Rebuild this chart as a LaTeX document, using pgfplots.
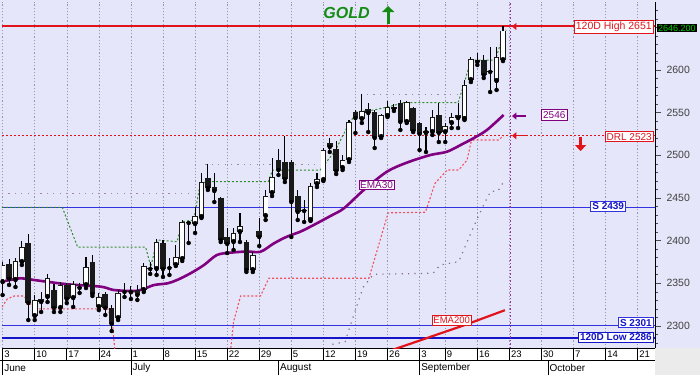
\documentclass[border=0pt]{standalone}
\usepackage{pgfplots}
\pgfplotsset{compat=1.18}
\usepackage{pgfplotstable}
\usepackage{fontspec}
\setmainfont{Liberation Sans}
\usetikzlibrary{arrows.meta}
\definecolor{bgl}{RGB}{230,230,250}
\definecolor{gridc}{RGB}{150,150,175}
\definecolor{redl}{RGB}{225,20,28}
\definecolor{bluel}{RGB}{50,50,225}
\definecolor{blued}{RGB}{20,20,200}
\definecolor{purp}{RGB}{128,0,128}
\definecolor{greent}{RGB}{20,140,20}
\definecolor{stepr}{RGB}{240,80,95}
\definecolor{stepg}{RGB}{45,140,45}
\definecolor{dotg}{RGB}{160,140,160}

\pgfplotstableread{
i O H L C
0 2351.5 2375.0 2336.3 2371.5
1 2372.7 2378.5 2348.1 2355.1
2 2353.9 2379.7 2345.7 2376.2
3 2375.0 2399.6 2371.5 2392.6
4 2397.3 2407.8 2307.0 2326.9
5 2311.7 2336.3 2307.0 2330.5
6 2331.6 2339.8 2316.4 2328.1
7 2334.0 2361.0 2328.1 2356.3
8 2342.2 2349.2 2316.4 2321.1
9 2321.1 2351.5 2316.4 2348.0
10 2348.0 2350.4 2326.9 2331.6
11 2332.8 2352.7 2322.3 2349.2
12 2344.6 2350.4 2338.7 2345.7
13 2348.0 2380.8 2344.5 2369.1
14 2375.0 2383.2 2335.2 2337.5
15 2322.3 2338.7 2318.7 2334.0
16 2337.5 2339.8 2312.9 2321.1
17 2321.1 2324.6 2294.1 2302.3
18 2309.4 2342.2 2307.0 2338.7
19 2339.8 2350.4 2334.0 2341.0
20 2340.5 2346.9 2331.6 2339.5
21 2342.2 2348.0 2330.5 2336.3
22 2342.2 2373.8 2339.8 2370.3
23 2367.9 2375.0 2361.0 2366.8
24 2366.8 2401.9 2359.8 2398.4
25 2397.3 2400.8 2357.5 2366.8
26 2369.1 2379.7 2359.8 2367.9
27 2371.5 2394.9 2370.3 2380.8
28 2378.5 2424.2 2376.2 2421.9
29 2421.9 2423.0 2397.3 2420.7
30 2419.5 2439.5 2409.0 2428.9
31 2427.7 2479.3 2426.6 2468.7
32 2473.4 2489.8 2459.4 2461.7
33 2462.9 2479.3 2445.3 2458.2
34 2450.0 2451.2 2398.4 2400.8
35 2404.3 2414.8 2385.5 2396.1
36 2398.4 2414.8 2389.1 2409.0
37 2410.2 2432.4 2398.4 2417.2
38 2398.4 2400.8 2363.3 2365.6
39 2365.6 2386.7 2363.3 2383.2
40 2411.3 2426.6 2393.7 2404.3
41 2428.9 2459.4 2424.2 2452.3
42 2455.9 2496.9 2452.3 2474.6
43 2494.5 2507.4 2477.0 2482.8
44 2492.2 2522.7 2468.7 2472.3
45 2492.2 2494.5 2404.3 2445.3
46 2452.3 2459.4 2424.2 2433.6
47 2435.9 2447.7 2421.9 2434.8
48 2424.2 2467.6 2423.1 2464.1
49 2466.4 2479.3 2462.9 2472.3
50 2471.1 2508.6 2469.9 2506.2
51 2514.5 2520.3 2503.9 2509.8
52 2507.4 2516.8 2478.1 2481.6
53 2485.2 2500.4 2482.8 2494.5
54 2494.5 2541.4 2492.2 2539.1
55 2550.8 2553.1 2526.2 2543.7
56 2542.6 2571.9 2537.9 2552.0
57 2554.3 2561.3 2527.3 2549.6
58 2550.8 2553.1 2508.6 2520.3
59 2521.5 2548.4 2520.3 2547.3
60 2546.1 2563.7 2544.9 2556.6
61 2556.6 2560.2 2552.0 2554.3
62 2561.3 2564.8 2529.7 2539.1
63 2539.1 2563.7 2537.9 2562.5
64 2555.5 2556.6 2527.3 2528.5
65 2537.9 2539.1 2506.2 2525.0
66 2526.2 2533.2 2503.9 2528.5
67 2527.3 2553.1 2523.8 2544.9
68 2547.3 2561.3 2515.6 2526.2
69 2527.3 2537.9 2515.6 2534.4
70 2537.9 2549.6 2532.0 2544.9
71 2547.3 2561.3 2532.0 2543.7
72 2542.6 2588.3 2541.4 2582.4
73 2588.3 2615.2 2585.9 2612.9
74 2611.7 2619.9 2605.9 2609.4
75 2611.7 2617.6 2590.6 2594.1
76 2597.7 2627.0 2574.2 2598.8
77 2587.1 2627.0 2576.6 2615.2
78 2611.7 2651.0 2610.5 2646.2
}\candles

\begin{document}
\begin{tikzpicture}[x=1pt,y=1pt]
\useasboundingbox (0,0) rectangle (700,375);
\fill[bgl] (0,0) rectangle (700,375);
\fill[white] (0,0) rectangle (655,27);
\fill[black!8] (655,0) rectangle (700,27);
\begin{axis}[
  at={(2pt,27pt)}, anchor=south west,
  width=653pt, height=346pt, scale only axis,
  xmin=-0.1, xmax=101.7, ymin=2274.2, ymax=2679.7,
  axis x line*=bottom, axis y line*=right,
  axis line style={black, line width=0.6pt},
  xtick={0,5,10,15,20,25,30,35,40,45,50,55,60,65,69,74,79,84,89,94,99},
  xticklabels={},
  x tick style={draw=none},
  xmajorgrids, major x grid style={gridc, dash pattern=on 1.2pt off 2pt, line width=0.5pt},
  ytick={2300,2350,...,2600},
  minor ytick={2280,2290,...,2670},
  y tick style={black!70, line width=0.6pt},
  tick align=outside,
  major tick length=6pt, minor tick length=3pt,
  yticklabel style={font=\fontsize{10.5}{12}\selectfont, text=black!75, xshift=2pt},
  /pgf/number format/assume math mode=true,
  /pgf/number format/1000 sep={},
  clip mode=individual,
]
% horizontal levels
\addplot[redl, line width=2pt] coordinates {(-0.1,2651) (101.7,2651)};
\addplot[redl, line width=1.2pt, dash pattern=on 2pt off 2pt] coordinates {(-0.1,2523) (101.7,2523)};
\addplot[bluel, line width=1.1pt] coordinates {(-0.1,2439) (101.7,2439)};
\addplot[bluel, line width=1.1pt] coordinates {(-0.1,2301) (101.7,2301)};
\addplot[blued, line width=2pt] coordinates {(-0.1,2286) (101.7,2286)};
% vertical purple marker
\addplot[purp!80, line width=1pt, dash pattern=on 1.5pt off 2pt] coordinates {(79.1,2274.2) (79.1,2679.7)};
% step lines
\addplot[stepg, line width=1pt, dash pattern=on 2pt off 2pt] coordinates {
(-0.1,2439) (9.3,2439) (11.7,2392.3) (22.3,2392.3) (23.1,2369.5) (24.1,2400.8) (27.2,2398.8) (28,2422.3) (29.8,2424.2) (30.8,2467.2) (32.1,2469.1) (41.4,2469.1) (42.1,2482.8) (49.5,2482.8) (51.9,2506) (53.7,2533) (55.2,2551) (57.8,2553) (60,2556.6) (62.5,2561.7) (71,2561.7) (71.8,2580.5) (73,2611.7) (76.8,2611.7) (77.8,2635) (78.5,2647)};
\addplot[stepr, line width=1.1pt, dash pattern=on 2pt off 2pt] coordinates {
(-0.1,2322.3) (0.7,2331.5) (1.8,2335.2) (3.3,2335.2) (4.1,2328.5) (4.9,2320) (16.4,2320) (17.1,2305) (17.6,2262) (35.4,2262) (36,2305) (37.1,2335.2) (40.2,2335.2) (41.5,2355.9) (57.1,2355.9) (60.1,2432.6) (65.9,2433.3) (67.4,2467.2) (69.3,2482.8) (71.1,2482.8) (72.4,2494.5) (73,2515) (73.4,2518) (77.3,2518) (78.1,2523)};
\addplot[dotg, line width=1.2pt, dash pattern=on 1.2pt off 5.2pt, unbounded coords=jump] coordinates {
(-0.1,2455.5) (29.8,2455.5) (30,nan) (31.6,2489.5) (49.1,2489.5) (50,nan) (55.8,2571.5) (71.4,2571.5)};
\addplot[dotg!80!black, line width=1.2pt, dash pattern=on 1.2pt off 5.2pt] coordinates {
(51.4,2278.5) (53.4,2281.6) (54.1,2298.5) (56.2,2345.4) (57.8,2360.6) (67.1,2361.8) (68.2,2371.5) (71.1,2375.4) (72.1,2393.0) (73.2,2412.5) (75.1,2443.8) (76.1,2457.9) (77.2,2457.9) (78.1,2469.1)};
% EMAs
\addplot[purp, line width=2.6pt, smooth] coordinates {
(-0.1,2352.0) (2.8,2355.9) (4.9,2353.9) (10.1,2348.9) (15.3,2346.1) (17.3,2342.2) (20.5,2341.0) (22.0,2343.4) (23.6,2348.0) (25.7,2350.0) (27.2,2353.9) (29.3,2361.8) (31.4,2371.5) (33.4,2383.2) (35.5,2385.9) (38.1,2387.3) (40.2,2387.0) (42.3,2396.9) (44.3,2404.6) (46.4,2410.5) (48.5,2418.4) (51.1,2428.9) (53.2,2437.9) (56.3,2459.4) (59.9,2480.8) (63.0,2491.4) (66.7,2500.4) (69.3,2504.3) (71.9,2514.1) (73.4,2520.0) (75.5,2529.7) (78.1,2547.3)};
\addplot[redl, line width=2.2pt] coordinates {(60,2270.0) (66,2285.5) (72,2301) (78.3,2318.5)};
% candles: wicks
\addplot[only marks, mark=none, error bars/.cd, y dir=plus, y explicit, error mark=none,
  error bar style={black, line width=1.1pt}]
  table[x=i, y=L, y error expr={\thisrow{H}-\thisrow{L}}] {\candles};
% bodies (outline / black fill)
\addplot[only marks, mark=none, error bars/.cd, y dir=plus, y explicit, error mark=none,
  error bar style={black!90, line width=5.6pt}]
  table[x=i, y expr={min(\thisrow{O},\thisrow{C})}, y error expr={max(abs(\thisrow{C}-\thisrow{O}),1.2)}] {\candles};
% white interior of rising candles
\addplot[only marks, mark=none, error bars/.cd, y dir=plus, y explicit, error mark=none,
  error bar style={white, line width=3.8pt}]
  table[x=i, y expr={(\thisrow{C}-\thisrow{O}>2.2) ? (\thisrow{O}+1.0) : nan}, y error expr={abs(\thisrow{C}-\thisrow{O})-2.0}] {\candles};
% arrows
\draw[redl, line width=1.5pt, -{Triangle[length=4.5pt,width=7pt]}] (axis cs:81.6,2651) -- (axis cs:79.4,2651);
\draw[redl, line width=1.5pt, -{Triangle[length=4.5pt,width=7pt]}] (axis cs:81.6,2523) -- (axis cs:79.4,2523);
\draw[purp, line width=1.5pt, -{Triangle[length=4.5pt,width=7pt]}] (axis cs:81.6,2546) -- (axis cs:79.4,2546);
\draw[redl, line width=2.8pt, -{Triangle[length=6pt,width=11pt]}] (axis cs:90.1,2521) -- (axis cs:90.1,2505);
\draw[greent, line width=3pt, -{Triangle[length=6pt,width=12pt]}] (axis cs:60.1,2654) -- (axis cs:60.1,2675);
\node[text=greent, font=\fontsize{16}{18}\selectfont\bfseries\itshape] at (axis cs:53.6,2666.5) {GOLD};
% labels
\tikzset{lbl/.style={draw, line width=0.8pt, fill=white, inner sep=1.6pt, font=\fontsize{10}{12}\selectfont, anchor=east}}
\node[lbl, draw=redl, text=redl, font=\fontsize{10.5}{12}\selectfont] at (axis cs:101.5,2651) {120D High 2651};
\node[lbl, draw=redl, text=redl] at (axis cs:101.5,2522) {DRL 2523};
\node[lbl, draw=purp, text=purp, anchor=center] at (axis cs:86.0,2547.5) {2546};
\node[lbl, draw=bluel, text=blued, font=\fontsize{10}{12}\selectfont\bfseries, anchor=center] at (axis cs:94.4,2440) {S 2439};
\node[lbl, draw=bluel, text=blued, font=\fontsize{10}{12}\selectfont\bfseries] at (axis cs:101.5,2304) {S 2301};
\node[lbl, draw=blued, text=blued, font=\fontsize{10}{12}\selectfont\bfseries] at (axis cs:101.5,2287) {120D Low 2286};
\node[lbl, draw=purp, text=purp, anchor=center, inner sep=1.3pt] at (axis cs:58.3,2465.2) {EMA30};
\node[lbl, draw=redl, text=redl, anchor=center, inner sep=1.3pt, font=\fontsize{9.5}{11}\selectfont] at (axis cs:70.0,2306.4) {EMA200};
\end{axis}
% last price tag
\node[fill=black, text={rgb,255:red,0;green,210;blue,0}, inner sep=1pt, anchor=west, font=\fontsize{9}{10}\selectfont] at (657,347) {2646.200};
% date band
\draw[black, line width=0.6pt] (0,15) -- (655,15);
\foreach \xx/\lab in {0/3,5/10,10/17,15/24,20/1,25/8,30/15,35/22,40/29,45/5,50/12,55/19,60/26,65/3,69/9,74/16,79/23,84/30,89/7,94/14,99/21}{
  \draw[black, line width=0.6pt] ({2+6.4145*(\xx+0.1)}, 27) -- ({2+6.4145*(\xx+0.1)}, 15);
  \node[anchor=west, inner sep=0pt, font=\fontsize{9.5}{10}\selectfont] at ({2+6.4145*(\xx+0.1)+1.5}, 20.8) {\lab};
}
\foreach \xx/\lab in {0/June,20/July,43/August,65/September,85/October}{
  \draw[black, line width=0.6pt] ({2+6.4145*(\xx+0.1)}, 15) -- ({2+6.4145*(\xx+0.1)}, 0);
  \node[anchor=west, inner sep=0pt, font=\fontsize{10}{10}\selectfont] at ({2+6.4145*(\xx+0.1)+1.5}, 7) {\lab};
}
\end{tikzpicture}
\end{document}
